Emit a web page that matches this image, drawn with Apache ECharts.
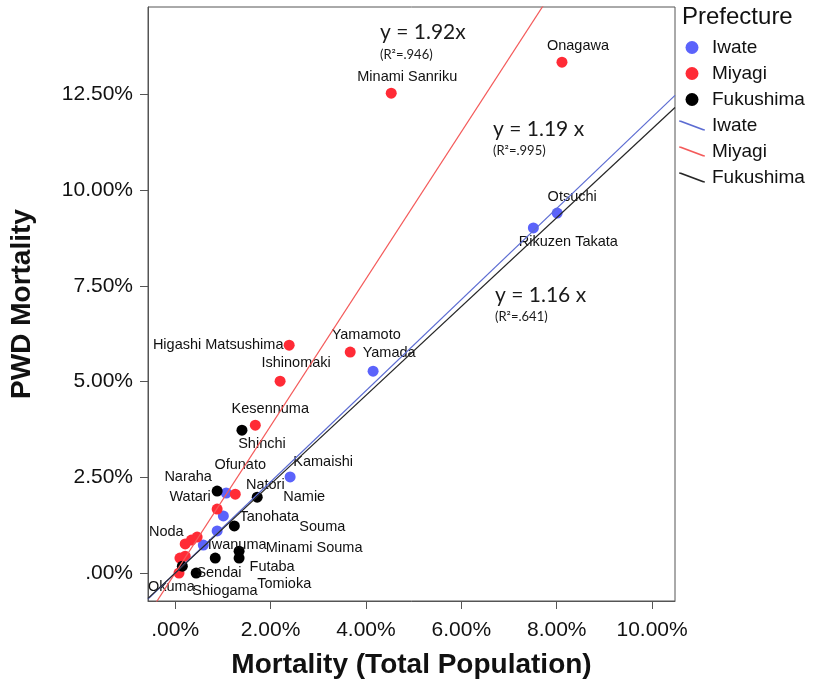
<!DOCTYPE html>
<html>
<head>
<meta charset="utf-8">
<script src="https://cdn.jsdelivr.net/npm/echarts@6/dist/echarts.min.js"></script>
<style>
  html, body { margin: 0; padding: 0; background: #fff; }
  #chart { width: 817px; height: 687px; }
</style>
</head>
<body>
<div id="chart"></div>
<script>
// PWD (people with disabilities) mortality vs total-population mortality, per municipality, in %
const iwateNames = ['Otsuchi', 'Rikuzen Takata', 'Yamada', 'Kamaishi', 'Ofunato', 'Tanohata', '', 'Noda'];
const iwateX = [8.01, 7.51, 4.15, 2.41, 1.07, 1.01, 0.88, 0.59];
const iwateY = [9.40, 9.01, 5.27, 2.51, 2.09, 1.49, 1.10, 0.73];

const miyagiNames = ['Onagawa', 'Minami Sanriku', 'Higashi Matsushima', 'Yamamoto', 'Ishinomaki', 'Kesennuma',
  'Natori', 'Watari', 'Iwanuma', '', '', '', 'Sendai', 'Shiogama'];
const miyagiX = [8.11, 4.53, 2.39, 3.67, 2.20, 1.68, 1.26, 0.88, 0.46, 0.34, 0.21, 0.21, 0.10, 0.08];
const miyagiY = [13.34, 12.53, 5.95, 5.77, 5.01, 3.86, 2.06, 1.67, 0.94, 0.86, 0.76, 0.44, 0.39, 0.00];

const fukushimaNames = ['Shinchi', 'Naraha', 'Namie', 'Souma', 'Minami Souma', 'Futaba', 'Tomioka', 'Okuma', ''];
const fukushimaX = [1.40, 0.88, 1.72, 1.24, 1.34, 1.34, 0.84, 0.15, 0.44];
const fukushimaY = [3.73, 2.14, 1.98, 1.23, 0.57, 0.39, 0.39, 0.18, 0.00];

// Fitted lines y = k·x
const prefectures = ['Iwate', 'Miyagi', 'Fukushima'];
const fitSlopes = [1.19, 1.92, 1.16];
const fitR2 = ['.995', '.946', '.641'];

// Axis extents and tick values (%)
const xRange = [-0.57, 10.48];
const yRange = [-0.73, 14.78];
const xTicks = [0, 2, 4, 6, 8, 10];
const yTicks = [0, 2.5, 5, 7.5, 10, 12.5];

// ---- styling ----
const dotColors = ['#5b63fb', '#ff2b36', '#000000'];
const lineColors = ['#5c6cd2', '#f45a5a', '#262626'];
const FONT = '"Liberation Sans", Arial, sans-serif';

// label centre relative to its marker, in px
const labelShift = {
  'Otsuchi': [15, -16], 'Rikuzen Takata': [35, 14], 'Yamada': [16, -18], 'Kamaishi': [33, -15],
  'Ofunato': [14, -28], 'Tanohata': [46, 1], 'Noda': [-37, -13],
  'Onagawa': [16, -16], 'Minami Sanriku': [16, -16], 'Higashi Matsushima': [-71, 0],
  'Yamamoto': [16, -17], 'Ishinomaki': [16, -18], 'Kesennuma': [15, -16], 'Natori': [30, -9],
  'Watari': [-27, -12], 'Iwanuma': [40, 8], 'Sendai': [39, 15], 'Shiogama': [46, 18],
  'Shinchi': [20, 14], 'Naraha': [-29, -14], 'Namie': [47, 0], 'Souma': [88, 1],
  'Minami Souma': [75, -3], 'Futaba': [33, 9], 'Tomioka': [69, 26], 'Okuma': [-11, 21]
};

function pointData(names, xs, ys) {
  return names.map((n, i) => ({
    name: n,
    value: [xs[i], ys[i]],
    label: n ? { show: true, offset: labelShift[n] || [0, -16] } : { show: false }
  }));
}

const groups = [
  pointData(iwateNames, iwateX, iwateY),
  pointData(miyagiNames, miyagiX, miyagiY),
  pointData(fukushimaNames, fukushimaX, fukushimaY)
];

const scatterSeries = prefectures.map((p, i) => ({
  name: p,
  type: 'scatter',
  symbol: 'circle',
  symbolSize: 11,
  itemStyle: { color: dotColors[i], opacity: 1 },
  z: 2,
  label: {
    show: true,
    position: 'inside',
    formatter: '{b}',
    color: '#111',
    fontFamily: FONT,
    fontSize: 14.5
  },
  data: groups[i]
}));

const lineSeries = prefectures.map((p, i) => ({
  name: p + ' fit',
  type: 'line',
  symbol: 'none',
  clip: true,
  z: 3,
  silent: true,
  itemStyle: { color: lineColors[i] },
  lineStyle: { color: lineColors[i], width: 1.2 },
  data: [[xRange[0], fitSlopes[i] * xRange[0]], [xRange[1], fitSlopes[i] * xRange[1]]]
}));

function pct(v) {
  return v.toFixed(2).replace(/^0/, '') + '%';
}

const diag = 'path://M0,0 L2,0 L26,9 L26,10 L24,10 L0,1 Z';

const eqLayout = [
  { x: 493, y: 131, ry: 152 },
  { x: 380, y: 34, ry: 56 },
  { x: 495, y: 297, ry: 318 }
];

const graphics = [];
prefectures.forEach((p, i) => {
  const L = eqLayout[i];
  const eq = i === 1 ? 'y = ' + fitSlopes[i].toFixed(2) + 'x' : 'y = ' + fitSlopes[i].toFixed(2) + ' x';
  graphics.push({
    type: 'text', left: L.x, top: L.y - 12,
    style: { text: eq, fill: '#1a1a1a', font: '21px Lato, "Open Sans", sans-serif' }
  });
  graphics.push({
    type: 'text', left: L.x, top: L.ry - 8,
    style: { text: '(R\u00b2=' + fitR2[i] + ')', fill: '#1a1a1a', font: '13px Lato, "Open Sans", sans-serif' }
  });
});

const axisCommon = {
  type: 'value',
  nameLocation: 'middle',
  nameTextStyle: { fontFamily: FONT, fontSize: 28, fontWeight: 'bold', color: '#111' },
  axisLine: { show: true, onZero: false, lineStyle: { color: '#555', width: 1 } },
  splitLine: { show: false }
};

const chart = echarts.init(document.getElementById('chart'), null, { renderer: 'canvas' });
chart.setOption({
  animation: false,
  backgroundColor: '#fff',
  title: {
    text: 'Prefecture',
    left: 682, top: 5,
    padding: 0,
    textStyle: { fontFamily: FONT, fontSize: 24, fontWeight: 'normal', color: '#111' }
  },
  legend: {
    orient: 'vertical',
    left: 679, top: 38,
    padding: 0,
    itemWidth: 26,
    itemHeight: 13,
    itemGap: 7,
    selectedMode: false,
    textStyle: { fontFamily: FONT, fontSize: 19, lineHeight: 19, color: '#111', padding: [0, 0, 0, 2] },
    formatter: name => name.replace(' fit', ''),
    data: prefectures.map(p => ({ name: p, icon: 'circle' }))
      .concat(prefectures.map(p => ({ name: p + ' fit', icon: diag })))
  },
  grid: {
    left: 148, top: 7, width: 527, height: 594,
    show: true, borderColor: '#555', borderWidth: 1, backgroundColor: 'transparent',
    containLabel: false
  },
  xAxis: Object.assign({}, axisCommon, {
    min: xRange[0], max: xRange[1],
    name: 'Mortality (Total Population)',
    nameGap: 50,
    axisTick: { show: true, inside: false, length: 8, customValues: xTicks, lineStyle: { color: '#555' } },
    axisLabel: { customValues: xTicks, formatter: pct, margin: 19, fontFamily: FONT, fontSize: 21, color: '#111' }
  }),
  yAxis: Object.assign({}, axisCommon, {
    min: yRange[0], max: yRange[1],
    name: 'PWD Mortality',
    nameGap: 112,
    axisTick: { show: true, inside: false, length: 8, customValues: yTicks, lineStyle: { color: '#555' } },
    axisLabel: { customValues: yTicks, formatter: pct, margin: 15, fontFamily: FONT, fontSize: 21, color: '#111' }
  }),
  graphic: graphics,
  series: scatterSeries.concat(lineSeries)
});
</script>
</body>
</html>
